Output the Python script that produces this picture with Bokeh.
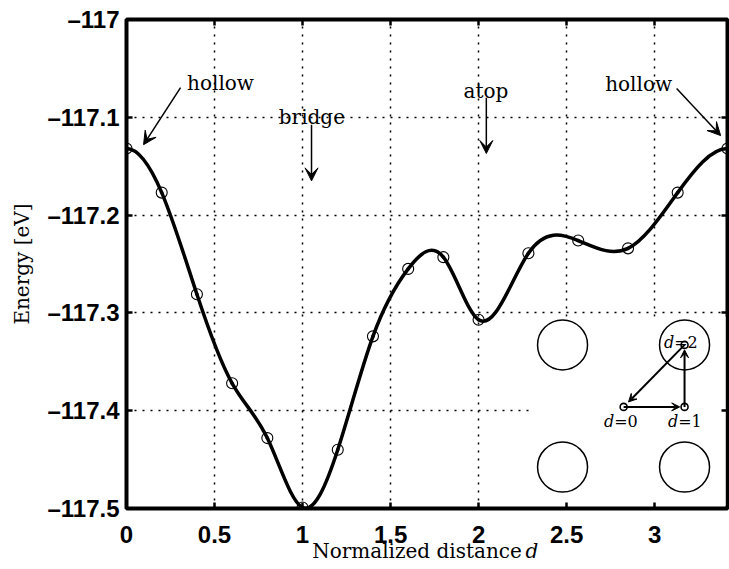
import numpy as np
from bokeh.plotting import figure
from bokeh.models import (ColumnDataSource, Range1d, FixedTicker, CustomJSTickFormatter,
                          LinearAxis, Label, Arrow, VeeHead)
from bokeh.embed import file_html
from bokeh.resources import INLINE

# ---------------- data ----------------
d = [0.0, 0.2, 0.4, 0.6, 0.8, 1.0, 1.2, 1.4, 1.6, 1.8, 2.0,
     2.283, 2.566, 2.849, 3.131, 3.414]
energy = [-117.132, -117.177, -117.281, -117.372, -117.428, -117.499, -117.440,
          -117.324, -117.255, -117.243, -117.307, -117.239, -117.226, -117.234,
          -117.177, -117.132]

x_ticks = [0, 0.5, 1, 1.5, 2, 2.5, 3]
x_tick_labels = ["0", "0.5", "1", "1.5", "2", "2.5", "3"]
y_ticks = [-117.5, -117.4, -117.3, -117.2, -117.1, -117.0]
y_tick_labels = ["\u2013117.5", "\u2013117.4", "\u2013117.3", "\u2013117.2", "\u2013117.1", "\u2013117"]

x_label = "Normalized distance"
x_label_var = "d"
y_label = "Energy [eV]"

# site annotations: text, text x, text baseline y, arrow start (x, y), arrow end (x, y)
site_text = ["hollow", "bridge", "atop", "hollow"]
site_text_x = [0.534, 1.053, 2.042, 2.909]
site_text_y = [-117.0645, -117.0995, -117.0735, -117.0655]
arrow_x0 = [0.307, 1.051, 2.044, 3.125]
arrow_y0 = [-117.0696, -117.1075, -117.0800, -117.0706]
arrow_x1 = [0.097, 1.051, 2.044, 3.375]
arrow_y1 = [-117.128, -117.165, -117.137, -117.1187]

# inset (surface geometry sketch)
inset_box = dict(left=2.295, right=3.403, bottom=-117.497, top=-117.304)
atom_x = [2.477, 3.170, 2.477, 3.170]
atom_y = [-117.3327, -117.3327, -117.4576, -117.4576]
path_x = [2.824, 3.170, 3.170]        # d=0 (hollow), d=1 (bridge), d=2 (atop)
path_y = [-117.3961, -117.3961, -117.3327]
path_num = ["0", "1", "2"]
path_lab_x = [2.770, 3.134, 3.111]
path_lab_y = [-117.4115, -117.4115, -117.3306]

SERIF = "DejaVu Serif"
SANS = "Liberation Sans"
EN = "\u2002"   # non-collapsing en space, used to place the two parts of the x title


def tick_fmt(tv, labs):
    return CustomJSTickFormatter(args=dict(tv=tv, labs=labs), code="""
        for (let i = 0; i < tv.length; i++) {
            if (Math.abs(tv[i] - tick) < 1e-6) return labs[i];
        }
        return "";
    """)


def spline_beziers(xs, ys):
    """Cubic spline through the points (zero end slopes), as Bezier segments."""
    x = np.asarray(xs, float)
    y = np.asarray(ys, float)
    n = len(x)
    h = np.diff(x)
    A = np.zeros((n, n))
    b = np.zeros(n)
    A[0, 0], A[0, 1] = 2 * h[0], h[0]
    b[0] = 6 * ((y[1] - y[0]) / h[0])
    for i in range(1, n - 1):
        A[i, i - 1] = h[i - 1]
        A[i, i] = 2 * (h[i - 1] + h[i])
        A[i, i + 1] = h[i]
        b[i] = 6 * ((y[i + 1] - y[i]) / h[i] - (y[i] - y[i - 1]) / h[i - 1])
    A[-1, -2], A[-1, -1] = h[-1], 2 * h[-1]
    b[-1] = 6 * (0 - (y[-1] - y[-2]) / h[-1])
    M = np.linalg.solve(A, b)
    s0 = (y[1:] - y[:-1]) / h - h * (2 * M[:-1] + M[1:]) / 6
    s1 = (y[1:] - y[:-1]) / h + h * (M[:-1] + 2 * M[1:]) / 6
    return dict(x0=x[:-1], y0=y[:-1], x1=x[1:], y1=y[1:],
                cx0=x[:-1] + h / 3, cy0=y[:-1] + s0 * h / 3,
                cx1=x[1:] - h / 3, cy1=y[1:] - s1 * h / 3)


p = figure(frame_width=601, frame_height=489,
           x_range=Range1d(d[0], d[-1]), y_range=Range1d(y_ticks[0], y_ticks[-1]),
           output_backend="svg", toolbar_location=None,
           min_border_left=126, min_border_right=2, min_border_top=19, min_border_bottom=0)
p.background_fill_color = "white"
p.border_fill_color = "white"
p.outline_line_color = "black"
p.outline_line_width = 4
p.outline_line_alpha = 1.0

# axes
bottom_ax = p.below[0]
left_ax = p.left[0]
bottom_ax.ticker = FixedTicker(ticks=x_ticks)
bottom_ax.formatter = tick_fmt(x_ticks, x_tick_labels)
left_ax.ticker = FixedTicker(ticks=y_ticks)
left_ax.formatter = tick_fmt(y_ticks, y_tick_labels)
bottom_ax.major_label_standoff = 17
left_ax.major_label_standoff = 7

left_ax.axis_label = y_label
left_ax.axis_label_standoff = 10
bottom_ax.axis_label = x_label + EN * 2
bottom_ax.axis_label_standoff = -7

# second (label-only) bottom axis carrying the italic variable of the x title
var_ax = LinearAxis(ticker=FixedTicker(ticks=[]), axis_label=EN * 21 + x_label_var)
var_ax.axis_label_standoff = -27
var_ax.axis_label_text_font_style = "italic"
p.add_layout(var_ax, "below")

top_ax = LinearAxis(ticker=FixedTicker(ticks=x_ticks), formatter=tick_fmt([], []))
right_ax = LinearAxis(ticker=FixedTicker(ticks=y_ticks), formatter=tick_fmt([], []))
p.add_layout(top_ax, "above")
p.add_layout(right_ax, "right")

for ax in [bottom_ax, left_ax, top_ax, right_ax, var_ax]:
    ax.axis_line_color = None
    ax.major_tick_in = 6
    ax.major_tick_out = 0
    ax.major_tick_line_width = 2.5
    ax.major_tick_line_color = "black"
    ax.minor_tick_line_color = None
    ax.major_label_text_font = SANS
    ax.major_label_text_font_style = "bold"
    ax.major_label_text_font_size = "24px"
    ax.major_label_text_color = "black"
    ax.axis_label_text_font = SERIF
    ax.axis_label_text_font_size = "20px"
    ax.axis_label_text_color = "black"
for ax in [bottom_ax, left_ax]:
    ax.axis_label_text_font_style = "normal"
for ax in [top_ax, right_ax]:
    ax.major_label_text_font_size = "0px"
    ax.major_label_standoff = 0
var_ax.major_tick_line_color = None
var_ax.major_label_standoff = 0
var_ax.major_label_text_font_size = "0px"

p.grid.grid_line_color = "black"
p.grid.grid_line_dash = "2 6"
p.grid.grid_line_width = 1.5
p.grid.grid_line_alpha = 1.0

src = ColumnDataSource(data=dict(d=d, e=energy))
curve_src = ColumnDataSource(data=spline_beziers(d, energy))

# inset white panel
p.quad(left=[inset_box["left"]], right=[inset_box["right"]],
       bottom=[inset_box["bottom"]], top=[inset_box["top"]],
       fill_color="white", line_color=None)

# main curve and points
p.bezier(x0="x0", y0="y0", x1="x1", y1="y1", cx0="cx0", cy0="cy0", cx1="cx1", cy1="cy1",
         source=curve_src, line_color="black", line_width=3.5, line_cap="round")
p.scatter(x="d", y="e", source=src, marker="circle", size=11,
          fill_color=None, line_color="black", line_width=1.1)

# inset atoms
p.scatter(x=atom_x, y=atom_y, marker="circle", size=50, fill_color=None,
          line_color="black", line_width=1.5)

# inset path arrows
inset_arrows = [(0, 1), (1, 2), (2, 0)]
for a, b in inset_arrows:
    xa, ya, xb, yb = path_x[a], path_y[a], path_x[b], path_y[b]
    p.add_layout(Arrow(end=VeeHead(size=8, fill_color="black", line_color="black", line_width=1),
                       x_start=xa, y_start=ya, x_end=xb + (xa - xb) * 0.08, y_end=yb + (ya - yb) * 0.08,
                       line_color="black", line_width=2))
p.scatter(x=path_x, y=path_y, marker="circle", size=7, fill_color="white",
          line_color="black", line_width=1.6)

for i in range(3):
    p.add_layout(Label(x=path_lab_x[i], y=path_lab_y[i], text="d", text_align="right",
                       text_baseline="alphabetic", text_font=SERIF, text_font_style="italic",
                       text_font_size="16px", text_color="black"))
    p.add_layout(Label(x=path_lab_x[i], y=path_lab_y[i], text="=" + path_num[i], text_align="left",
                       text_baseline="alphabetic", text_font=SERIF,
                       text_font_size="16px", text_color="black"))

# site annotations
for i in range(4):
    p.add_layout(Label(x=site_text_x[i], y=site_text_y[i], text=site_text[i], text_align="center",
                       text_baseline="alphabetic", text_font=SERIF, text_font_size="20px",
                       text_color="black"))
    p.add_layout(Arrow(end=VeeHead(size=13, fill_color="black", line_color="black", line_width=1),
                       x_start=arrow_x0[i], y_start=arrow_y0[i], x_end=arrow_x1[i], y_end=arrow_y1[i],
                       line_color="black", line_width=1.5))

open("out.html", "w").write(file_html(p, INLINE))
